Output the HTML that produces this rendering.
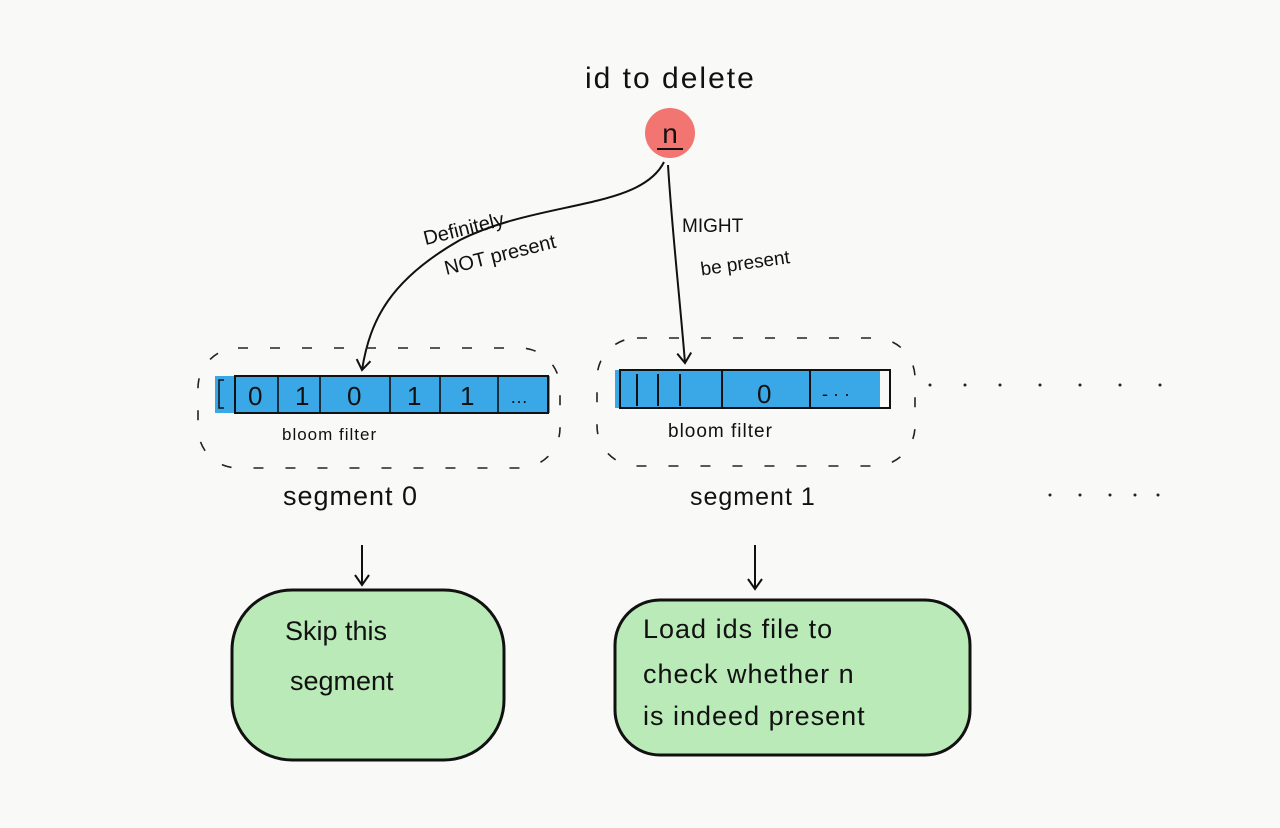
<!DOCTYPE html>
<html><head><meta charset="utf-8"><style>
html,body{margin:0;padding:0;background:#f9f9f7;}
svg{display:block}
text{font-family:"Liberation Sans",sans-serif;fill:#111}
</style></head><body>
<svg width="1280" height="828" viewBox="0 0 1280 828" xmlns="http://www.w3.org/2000/svg">
<rect width="1280" height="828" fill="#f9f9f7"/>
<defs>
<marker id="ah" markerWidth="16" markerHeight="16" refX="12" refY="8" orient="auto" markerUnits="userSpaceOnUse">
<path d="M2,1 L12,8 L2,15" fill="none" stroke="#111" stroke-width="2"/>
</marker>
</defs>
<text x="585" y="88" font-size="30" letter-spacing="2">id  to  delete</text>
<circle cx="670" cy="133" r="25" fill="#f27571"/>
<text x="670" y="143" font-size="28" text-anchor="middle">n</text>
<line x1="657" y1="149" x2="683" y2="149" stroke="#111" stroke-width="2"/>

<path d="M664,162 C640,210 540,200 460,240 C390,280 370,320 362,370" fill="none" stroke="#111" stroke-width="2" marker-end="url(#ah)"/>
<path d="M668,165 C672,230 680,300 685,363" fill="none" stroke="#111" stroke-width="2" marker-end="url(#ah)"/>

<g transform="rotate(-14 495 235)">
<text x="425" y="228" font-size="20">Definitely</text>
<text x="438" y="262" font-size="20">NOT present</text>
</g>
<text x="682" y="232" font-size="19">MIGHT</text>
<g transform="rotate(-8 740 262)"><text x="700" y="270" font-size="19">be present</text></g>

<rect x="198" y="348" width="362" height="120" rx="40" fill="none" stroke="#222" stroke-width="1.6" stroke-dasharray="10 22"/>
<rect x="597" y="338" width="318" height="128" rx="40" fill="none" stroke="#222" stroke-width="1.6" stroke-dasharray="10 22"/>

<rect x="215" y="376" width="335" height="37" fill="#3aa8e6"/>
<rect x="235" y="376" width="313" height="37" fill="none" stroke="#111" stroke-width="2"/>
<path d="M224,380 L219,380 L219,408 L224,408" fill="none" stroke="#111" stroke-width="1.5"/>
<g stroke="#111" stroke-width="1.6">
<line x1="278" y1="376" x2="278" y2="413"/><line x1="320" y1="376" x2="320" y2="413"/>
<line x1="390" y1="376" x2="390" y2="413"/><line x1="440" y1="376" x2="440" y2="413"/>
<line x1="498" y1="376" x2="498" y2="413"/>
</g>
<g font-size="26">
<text x="248" y="405">0</text><text x="295" y="405">1</text><text x="347" y="405">0</text>
<text x="407" y="405">1</text><text x="460" y="405">1</text><text x="510" y="403" font-size="18">…</text>
</g>
<text x="282" y="440" font-size="17" letter-spacing="1">bloom  filter</text>

<rect x="615" y="370" width="265" height="38" fill="#3aa8e6"/>
<rect x="620" y="370" width="270" height="38" fill="none" stroke="#111" stroke-width="2"/>
<g stroke="#111" stroke-width="2">
<line x1="637" y1="374" x2="637" y2="406"/><line x1="658" y1="374" x2="658" y2="406"/>
<line x1="680" y1="374" x2="680" y2="406"/><line x1="722" y1="370" x2="722" y2="408"/>
<line x1="810" y1="370" x2="810" y2="408"/>
</g>
<text x="757" y="403" font-size="26">0</text>
<text x="822" y="400" font-size="18">- · ·</text>
<text x="668" y="437" font-size="19" letter-spacing="1">bloom filter</text>

<g fill="#222">
<circle cx="930" cy="385" r="1.5"/><circle cx="965" cy="385" r="1.5"/><circle cx="1000" cy="385" r="1.5"/>
<circle cx="1040" cy="385" r="1.5"/><circle cx="1080" cy="385" r="1.5"/><circle cx="1120" cy="385" r="1.5"/><circle cx="1160" cy="385" r="1.5"/>
<circle cx="1050" cy="495" r="1.5"/><circle cx="1080" cy="495" r="1.5"/><circle cx="1110" cy="495" r="1.5"/><circle cx="1135" cy="495" r="1.5"/><circle cx="1158" cy="495" r="1.5"/>
</g>

<text x="283" y="505" font-size="27" letter-spacing="1">segment  0</text>
<text x="690" y="505" font-size="25" letter-spacing="1">segment   1</text>

<line x1="362" y1="545" x2="362" y2="585" stroke="#111" stroke-width="2" marker-end="url(#ah)"/>
<line x1="755" y1="545" x2="755" y2="589" stroke="#111" stroke-width="2" marker-end="url(#ah)"/>

<rect x="232" y="590" width="272" height="170" rx="60" fill="#b9eab7" stroke="#111" stroke-width="3"/>
<text x="285" y="640" font-size="27">Skip  this</text>
<text x="290" y="690" font-size="27">segment</text>

<rect x="615" y="600" width="355" height="155" rx="45" fill="#b9eab7" stroke="#111" stroke-width="3"/>
<g font-size="27" letter-spacing="1">
<text x="643" y="638">Load  ids  file  to</text>
<text x="643" y="683">check  whether  n</text>
<text x="643" y="725">is  indeed  present</text>
</g>
</svg>
</body></html>
